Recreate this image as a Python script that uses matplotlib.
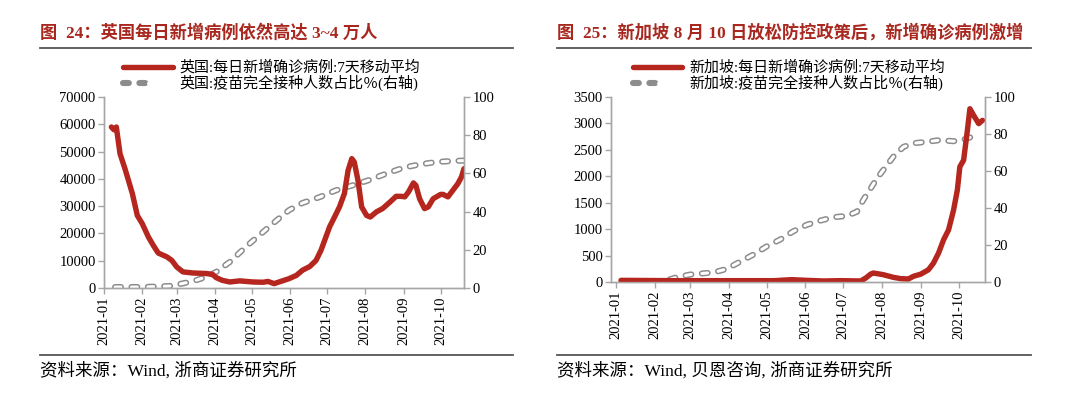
import matplotlib
matplotlib.use("Agg")
import matplotlib.pyplot as plt
import matplotlib.dates as mdates
from matplotlib.legend_handler import HandlerTuple
import numpy as np
import pandas as pd

plt.rcParams['font.family'] = ['Liberation Serif', 'Noto Sans CJK SC', 'DejaVu Sans']
plt.rcParams['lines.scale_dashes'] = False
plt.rcParams['axes.unicode_minus'] = False

# UK: daily new cases, 7-day average (left axis)
uk_case_dates = ["2021-01-07", "2021-01-09", "2021-01-11", "2021-01-14", "2021-01-18", "2021-01-20",
                 "2021-01-24", "2021-01-28", "2021-02-01", "2021-02-06", "2021-02-10", "2021-02-14",
                 "2021-02-21", "2021-02-25", "2021-03-01", "2021-03-06", "2021-03-14", "2021-03-25",
                 "2021-03-30", "2021-04-02", "2021-04-07", "2021-04-13", "2021-04-21", "2021-05-02",
                 "2021-05-10", "2021-05-14", "2021-05-19", "2021-05-23", "2021-05-31", "2021-06-06",
                 "2021-06-11", "2021-06-17", "2021-06-22", "2021-06-26", "2021-06-30", "2021-07-03",
                 "2021-07-07", "2021-07-11", "2021-07-15", "2021-07-18", "2021-07-21", "2021-07-23",
                 "2021-07-26", "2021-07-29", "2021-08-02", "2021-08-05", "2021-08-10", "2021-08-15",
                 "2021-08-21", "2021-08-26", "2021-08-30", "2021-09-02", "2021-09-05", "2021-09-09",
                 "2021-09-11", "2021-09-14", "2021-09-18", "2021-09-21", "2021-09-25", "2021-10-01",
                 "2021-10-03", "2021-10-07", "2021-10-10", "2021-10-15", "2021-10-18", "2021-10-20"]
uk_cases = [59000, 58000, 59000, 49200, 43700, 40700,
            34600, 26600, 23600, 18700, 15600, 12800,
            11400, 10100, 7700, 5900, 5500, 5300,
            5000, 3800, 2800, 2200, 2600, 2200,
            2100, 2400, 1600, 2200, 3400, 4600,
            6500, 7900, 10100, 13800, 18700, 22400,
            26000, 29700, 34600, 43100, 47400, 46200,
            39500, 29700, 26600, 26000, 27900, 29100,
            31500, 33600, 33600, 33400, 35200, 38500,
            37600, 32700, 29100, 29700, 32700, 34300,
            34300, 33400, 35200, 38200, 40700, 43700]

# UK: fully vaccinated share, % (right axis)
uk_vax_dates = ["2021-01-10", "2021-02-01", "2021-02-23", "2021-03-03", "2021-03-14", "2021-03-25",
                "2021-04-02", "2021-04-13", "2021-04-26", "2021-05-10", "2021-05-21", "2021-05-31",
                "2021-06-11", "2021-06-25", "2021-07-08", "2021-07-22", "2021-08-05", "2021-08-18",
                "2021-09-01", "2021-09-14", "2021-09-28", "2021-10-11", "2021-10-20"]
uk_vax = [0.5, 0.5, 1.0, 2.0, 3.5, 5.8,
          8.4, 13.6, 21.5, 29.3, 35.4, 40.7,
          44.5, 47.6, 51.1, 53.8, 56.7, 59.9,
          63.0, 64.7, 66.0, 66.5, 66.7]

# Singapore: daily new cases, 7-day average (left axis)
sg_case_dates = ["2021-01-05", "2021-02-16", "2021-03-30", "2021-05-07", "2021-05-21", "2021-06-02",
                 "2021-06-15", "2021-06-29", "2021-07-15", "2021-07-19", "2021-07-23", "2021-07-25",
                 "2021-08-02", "2021-08-10", "2021-08-16", "2021-08-22", "2021-08-26", "2021-09-01",
                 "2021-09-07", "2021-09-11", "2021-09-15", "2021-09-19", "2021-09-23", "2021-09-27",
                 "2021-09-30", "2021-10-02", "2021-10-05", "2021-10-08", "2021-10-10", "2021-10-13",
                 "2021-10-17", "2021-10-20"]
sg_cases = [31, 25, 25, 25, 44, 31,
            19, 25, 19, 75, 150, 170,
            138, 88, 63, 57, 107, 150,
            232, 358, 546, 797, 986, 1363,
            1740, 2180, 2305, 2870, 3278, 3152,
            2996, 3058]

# Singapore: fully vaccinated share, % (right axis)
sg_vax_dates = ["2021-01-31", "2021-02-08", "2021-02-18", "2021-03-01", "2021-03-20", "2021-03-30",
                "2021-04-10", "2021-04-21", "2021-05-01", "2021-05-12", "2021-05-22", "2021-06-02",
                "2021-06-13", "2021-06-23", "2021-07-04", "2021-07-12", "2021-07-17", "2021-07-23",
                "2021-07-28", "2021-08-02", "2021-08-10", "2021-08-18", "2021-08-26", "2021-09-06",
                "2021-09-16", "2021-09-27", "2021-10-05", "2021-10-13"]
sg_vax = [0.0, 0.4, 2.5, 4.0, 5.2, 7.0,
          11.0, 15.0, 19.2, 23.0, 27.3, 30.9,
          33.2, 35.0, 35.7, 38.0, 44.3, 50.6,
          56.0, 60.5, 67.7, 73.0, 75.0, 75.8,
          76.7, 76.1, 77.0, 78.8]

RED = "#B5261E"
TITLE_RED = "#A8281F"
GRAY = "#8C8C8C"
SPINE = "#A6A6A6"
DASH = (0, (4.2, 7.6))
FS = 10.5

fig = plt.figure(figsize=(10.8, 3.97), dpi=100)


def draw_panel(rect, case_dates, cases, vax_dates, vax, ymax, ystep, xlim, country,
               title, source, text_x, legend_x, line_x1):
    ax = fig.add_axes(rect)
    ax2 = ax.twinx()
    ax.set_zorder(ax2.get_zorder() + 1)
    ax.patch.set_visible(False)

    cd = pd.to_datetime(case_dates)
    vd = pd.to_datetime(vax_dates)

    # outlined dashes: gray wide stroke with a white core on top
    g, = ax2.plot(vd, vax, color=GRAY, lw=4.4, linestyle=DASH, dash_capstyle='round')
    w, = ax2.plot(vd, vax, color='white', lw=2.2, linestyle=DASH, dash_capstyle='round')
    r, = ax.plot(cd, cases, color=RED, lw=3.9, solid_capstyle='round', solid_joinstyle='round')

    ax.set_ylim(0, ymax)
    ax.set_yticks(np.arange(0, ymax + 1, ystep))
    ax2.set_ylim(0, 100)
    ax2.set_yticks(np.arange(0, 101, 20))
    ax.set_xlim(pd.Timestamp(xlim[0]), pd.Timestamp(xlim[1]))
    ax.xaxis.set_major_locator(mdates.MonthLocator())
    ax.xaxis.set_major_formatter(mdates.DateFormatter('%Y-%m'))
    for lab in ax.get_xticklabels():
        lab.set_rotation(90)

    for a in (ax, ax2):
        a.spines['top'].set_visible(False)
        for s in ('left', 'right', 'bottom'):
            a.spines[s].set_color(SPINE)
            a.spines[s].set_linewidth(1.0)
        a.tick_params(colors=SPINE, labelcolor='black', labelsize=FS, length=4, width=1.0, pad=2)

    ax.legend([r, (g, w)],
              [f"{country}:每日新增确诊病例:7天移动平均", f"{country}:疫苗完全接种人数占比％(右轴)"],
              handler_map={tuple: HandlerTuple(ndivide=None)},
              loc='lower left', bbox_to_anchor=(legend_x, 0.77), bbox_transform=fig.transFigure,
              frameon=False, fontsize=10.8, handlelength=3.3, handletextpad=0.45,
              labelspacing=0.0, borderpad=0, borderaxespad=0)

    fig.text(text_x, 0.917, title, fontsize=12.4, fontweight='bold', color=TITLE_RED,
             va='center', ha='left')
    fig.add_artist(plt.Line2D([text_x, line_x1], [0.879, 0.879],
                              color='#555555', lw=1.3, transform=fig.transFigure))
    fig.add_artist(plt.Line2D([text_x, line_x1], [0.107, 0.107],
                              color='#555555', lw=1.3, transform=fig.transFigure))
    fig.text(text_x, 0.065, source, fontsize=12.6, va='center', ha='left')
    return ax


draw_panel([0.0963, 0.2746, 0.3333, 0.4811], uk_case_dates, uk_cases, uk_vax_dates, uk_vax,
           70000, 10000, ("2021-01-01", "2021-10-20"), "英国",
           "图  24：英国每日新增病例依然高达 3~4 万人", "资料来源：Wind, 浙商证券研究所",
           0.037, 0.114, 0.475)
draw_panel([0.5657, 0.2897, 0.3463, 0.466], sg_case_dates, sg_cases, sg_vax_dates, sg_vax,
           3500, 500, ("2020-12-28", "2021-10-22"), "新加坡",
           "图  25：新加坡 8 月 10 日放松防控政策后，新增确诊病例激增", "资料来源：Wind, 贝恩咨询, 浙商证券研究所",
           0.516, 0.586, 0.955)

fig.savefig("out.png", dpi=100)
